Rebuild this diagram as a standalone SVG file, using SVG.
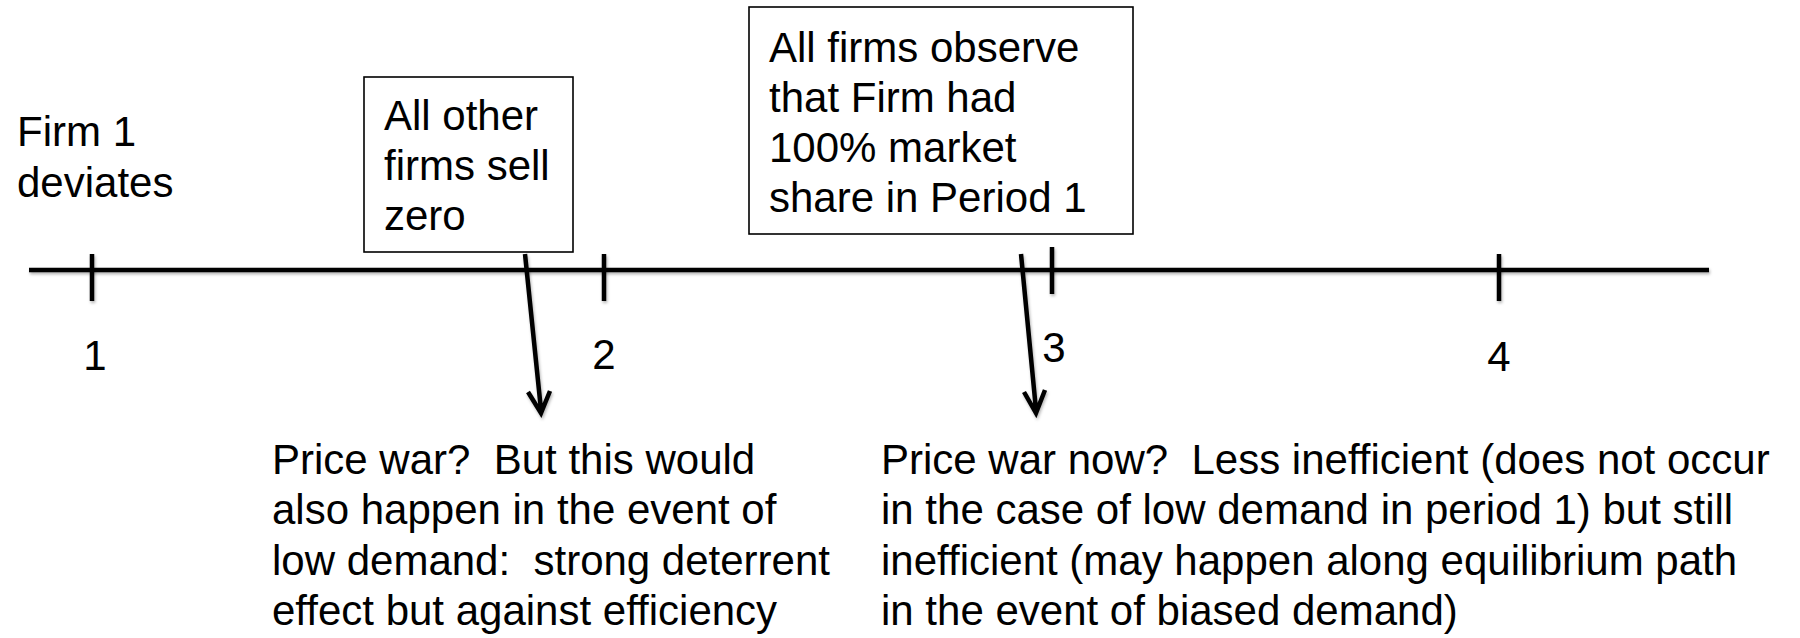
<svg xmlns="http://www.w3.org/2000/svg" width="1800" height="638" viewBox="0 0 1800 638">
<style>
text{font-family:"Liberation Sans",Arial,sans-serif;font-size:42px;fill:#000;white-space:pre}
.ln{stroke:#000;stroke-width:4.5;fill:none;filter:url(#sh)}
.box{fill:#fff;stroke:#000;stroke-width:1.6}
</style>
<defs>
<filter id="sh" filterUnits="userSpaceOnUse" x="0" y="0" width="1800" height="638">
<feDropShadow dx="1" dy="2" stdDeviation="1.5" flood-color="#000" flood-opacity="0.3"/>
</filter>
</defs>
<rect width="1800" height="638" fill="#fff"/>
<g id="timeline">
<line class="ln" x1="29" y1="270" x2="1709" y2="270"/>
<line class="ln" x1="92" y1="254" x2="92" y2="301"/>
<line class="ln" x1="604" y1="254" x2="604" y2="301"/>
<line class="ln" x1="1052" y1="247" x2="1052" y2="294"/>
<line class="ln" x1="1499" y1="254" x2="1499" y2="301"/>
<text x="95" y="370" text-anchor="middle">1</text>
<text x="604" y="369" text-anchor="middle">2</text>
<text x="1054" y="362" text-anchor="middle">3</text>
<text x="1499" y="371" text-anchor="middle">4</text>
</g>
<g id="firm1">
<text x="17" y="146">Firm 1</text>
<text x="17" y="197">deviates</text>
</g>
<g id="box1">
<rect class="box" x="364" y="77" width="209" height="175"/>
<text x="384" y="130">All other</text>
<text x="384" y="180">firms sell</text>
<text x="384" y="230">zero</text>
</g>
<g id="box2">
<rect class="box" x="749" y="7" width="384" height="227"/>
<text x="769" y="62">All firms observe</text>
<text x="769" y="112">that Firm had</text>
<text x="769" y="162">100% market</text>
<text x="769" y="212">share in Period 1</text>
</g>
<g id="note1">
<text x="272" y="474" xml:space="preserve">Price war?  But this would</text>
<text x="272" y="524">also happen in the event of</text>
<text x="272" y="575" xml:space="preserve">low demand:  strong deterrent</text>
<text x="272" y="625">effect but against efficiency</text>
</g>
<g id="note2">
<text x="881" y="474" xml:space="preserve">Price war now?  Less inefficient (does not occur</text>
<text x="881" y="524">in the case of low demand in period 1) but still</text>
<text x="881" y="575">inefficient (may happen along equilibrium path</text>
<text x="881" y="625">in the event of biased demand)</text>
</g>
<g id="connectors">
<path d="M525,254 L541,410 M528,392 L541,413 L550,391" class="ln" stroke-linecap="butt" stroke-linejoin="miter"/>
<path d="M1021,254 L1036,410 M1024,392 L1036,413 L1045,390" class="ln" stroke-linecap="butt" stroke-linejoin="miter"/>
</g>
</svg>
